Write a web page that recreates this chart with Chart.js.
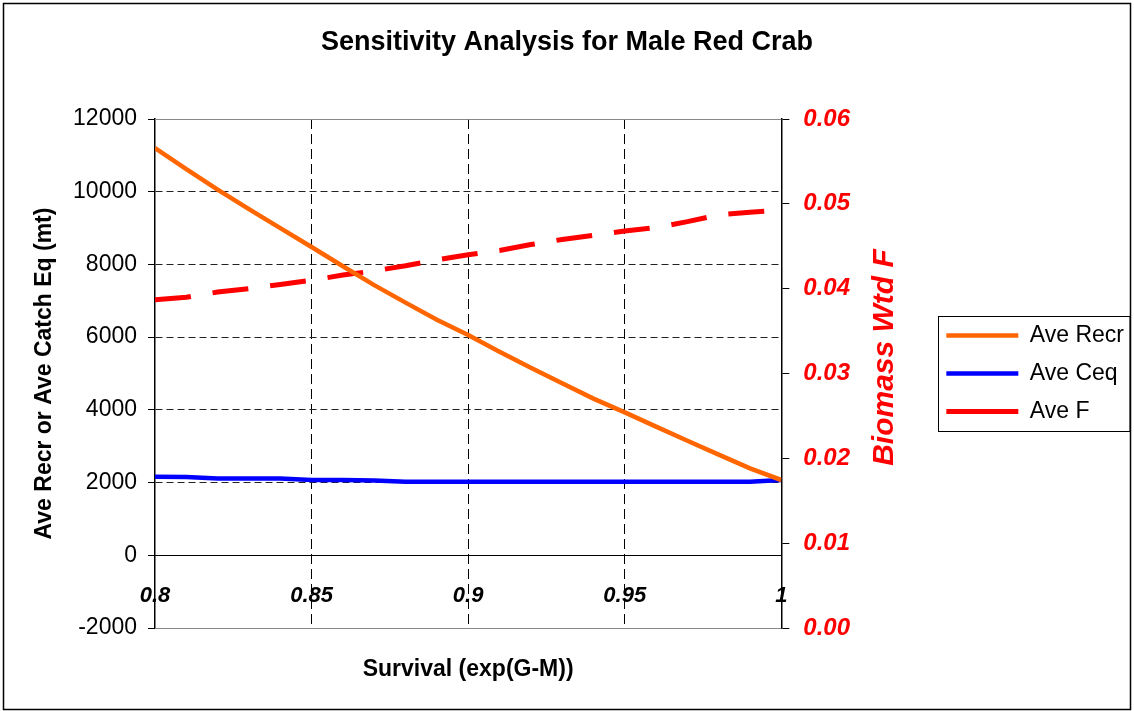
<!DOCTYPE html>
<html>
<head>
<meta charset="utf-8">
<title>Sensitivity Analysis for Male Red Crab</title>
<script src="https://cdn.jsdelivr.net/npm/chart.js@4.4.1/dist/chart.umd.min.js"></script>
<style>
  html, body { margin: 0; padding: 0; background: #fff; }
  #wrap { width: 1134px; height: 711px; position: relative; }
</style>
</head>
<body>
<div id="wrap"><canvas id="chart"></canvas></div>
<script>
'use strict'

// Data
const survival = [0.80, 0.81, 0.82, 0.83, 0.84, 0.85, 0.86, 0.87, 0.88, 0.89, 0.90,
                  0.91, 0.92, 0.93, 0.94, 0.95, 0.96, 0.97, 0.98, 0.99, 1.00];
const aveRecr = [11200, 10620, 10060, 9520, 9000, 8480, 7950, 7430, 6950, 6480, 6060,
                 5600, 5160, 4730, 4310, 3930, 3540, 3150, 2770, 2390, 2070];
const aveCeq = [2160, 2150, 2110, 2110, 2110, 2070, 2070, 2060, 2020, 2020, 2020,
                2020, 2020, 2020, 2020, 2020, 2020, 2020, 2020, 2020, 2070];
const aveF = [0.0387, 0.0390, 0.0396, 0.0400, 0.0405, 0.0410, 0.0416, 0.0421, 0.0427, 0.0434, 0.0440,
              0.0445, 0.0452, 0.0458, 0.0463, 0.0468, 0.0472, 0.0479, 0.0487, 0.0490, 0.0493];

// Tick labels
const xTicks = [0.8, 0.85, 0.9, 0.95, 1];
const leftTicks = [-2000, 0, 2000, 4000, 6000, 8000, 10000, 12000];
const rightTicks = [0, 0.01, 0.02, 0.03, 0.04, 0.05, 0.06];

const FONT = '"Liberation Sans", Arial, sans-serif';
const pts = ys => survival.map((x, i) => ({x: x, y: ys[i]}));
const setTicks = list => scale => { scale.ticks = list.map(v => ({value: v})); };

// white page, outer frame, plot frame, legend frame, right-hand axis title
const decor = {
    id: 'decor',
    beforeDraw(chart) {
        const c = chart.ctx;
        c.save();
        c.fillStyle = '#fff';
        c.fillRect(0, 0, chart.width, chart.height);
        c.restore();
    },
    afterDatasetsDraw(chart) {
        const c = chart.ctx;
        const a = chart.chartArea;
        c.save();
        c.strokeStyle = '#888';
        c.lineWidth = 1;
        c.beginPath();
        c.moveTo(a.left, Math.round(a.top) + 0.5);
        c.lineTo(a.right, Math.round(a.top) + 0.5);
        c.moveTo(a.left, Math.round(a.bottom) + 0.5);
        c.lineTo(a.right, Math.round(a.bottom) + 0.5);
        c.stroke();
        c.restore();
    },
    afterDraw(chart) {
        const c = chart.ctx;
        const a = chart.chartArea;
        c.save();
        c.strokeStyle = '#000';
        c.lineWidth = 1.5;
        c.strokeRect(3.5, 3.5, chart.width - 7, chart.height - 5);

        // legend frame
        const hb = chart.legend.legendHitBoxes;
        if (hb && hb.length) {
            const last = hb[hb.length - 1];
            const x0 = hb[0].left - 8;
            const y0 = hb[0].top - 8;
            c.lineWidth = 1;
            c.strokeRect(Math.round(x0) + 0.5, Math.round(y0) + 0.5,
                         chart.width - 4 - Math.round(x0) - 0.5, Math.round(last.top + last.height + 8 - y0));
        }

        // right axis title, reads bottom to top
        const y1 = chart.scales.y1;
        c.translate(y1.left + 103, (a.top + a.bottom) / 2 - 16);
        c.rotate(-Math.PI / 2);
        c.fillStyle = '#ff0000';
        c.font = 'italic bold 30px ' + FONT;
        c.textAlign = 'center';
        c.textBaseline = 'middle';
        c.fillText('Biomass Wtd F', 0, 0);
        c.restore();
    }
};

new Chart(document.getElementById('chart'), {
    type: 'line',
    data: {
        datasets: [{
            label: 'Ave Recr',
            data: pts(aveRecr),
            borderColor: '#ff6600',
            backgroundColor: '#ff6600',
            borderWidth: 4.5,
            yAxisID: 'y'
        }, {
            label: 'Ave Ceq',
            data: pts(aveCeq),
            borderColor: '#0000ff',
            backgroundColor: '#0000ff',
            borderWidth: 4.5,
            yAxisID: 'y'
        }, {
            label: 'Ave F',
            data: pts(aveF),
            borderColor: '#ff0000',
            backgroundColor: '#ff0000',
            borderWidth: 5,
            borderDash: [36, 22],
            yAxisID: 'y1'
        }]
    },
    options: {
        responsive: true,
        maintainAspectRatio: false,
        animation: false,
        events: [],
        layout: {padding: {left: 0, right: 0, top: 0, bottom: 83}},
        elements: {
            point: {radius: 0},
            line: {tension: 0, borderCapStyle: 'butt'}
        },
        plugins: {
            title: {
                display: true,
                text: 'Sensitivity Analysis for Male Red Crab',
                color: '#000',
                font: {family: FONT, size: 27, weight: 'bold'},
                padding: {top: 26, bottom: 60.6}
            },
            legend: {
                position: 'right',
                fullSize: false,
                maxWidth: 220,
                labels: {
                    color: '#000',
                    font: {family: FONT, size: 23},
                    boxWidth: 72,
                    padding: 15,
                    usePointStyle: true,
                    pointStyle: 'line',
                    pointStyleWidth: 72,
                    generateLabels(chart) {
                        const items = Chart.defaults.plugins.legend.labels.generateLabels(chart);
                        items.forEach(it => {
                            it.pointStyle = 'line';
                            if (it.lineDash && it.lineDash.length) it.lineDashOffset = 24;
                        });
                        return items;
                    }
                }
            },
            tooltip: {enabled: false}
        },
        scales: {
            x: {
                type: 'linear',
                position: {y: 0},
                min: 0.8,
                max: 1,
                afterBuildTicks: setTicks(xTicks),
                grid: {
                    color: c => (c.tick && (c.tick.value <= 0.8 || c.tick.value >= 1)) ? 'rgba(0,0,0,0)' : '#000',
                    lineWidth: 1,
                    drawTicks: false
                },
                border: {color: '#000', width: 1, dash: [10, 5]},
                ticks: {
                    color: '#000',
                    font: {family: FONT, size: 22, weight: 'bold', style: 'italic'},
                    padding: 27,
                    maxRotation: 0,
                    callback: v => String(+v.toFixed(2))
                },
                title: {
                    display: true,
                    text: 'Survival (exp(G-M))',
                    color: '#000',
                    font: {family: FONT, size: 23, weight: 'bold'},
                    padding: {top: 20, bottom: 0}
                }
            },
            y: {
                position: 'left',
                min: -2000,
                max: 12000,
                afterBuildTicks: setTicks(leftTicks),
                afterFit: s => { s.width = 155; },
                grid: {
                    color: c => (c.tick && (c.tick.value <= 0 || c.tick.value >= 12000)) ? 'rgba(0,0,0,0)' : '#222',
                    tickColor: '#000',
                    tickLength: 7,
                    lineWidth: 1
                },
                border: {color: '#000', width: 1.5, dash: [7, 4]},
                ticks: {
                    color: '#000',
                    font: {family: FONT, size: 23},
                    padding: 11,
                    callback: v => String(v)
                },
                title: {
                    display: true,
                    text: 'Ave Recr or Ave Catch Eq (mt)',
                    color: '#000',
                    font: {family: FONT, size: 23, weight: 'bold'},
                    padding: {top: 31, bottom: 0}
                }
            },
            y1: {
                position: 'right',
                min: 0,
                max: 0.06,
                afterBuildTicks: setTicks(rightTicks),
                afterFit: s => { s.width = 150; },
                grid: {
                    drawOnChartArea: false,
                    color: '#000',
                    tickColor: '#000',
                    tickLength: 8
                },
                border: {color: '#000', width: 1.5},
                ticks: {
                    color: '#ff0000',
                    font: {family: FONT, size: 24, weight: 'bold', style: 'italic'},
                    padding: 14,
                    callback: v => v.toFixed(2)
                }
            }
        }
    },
    plugins: [decor]
});
</script>
</body>
</html>
